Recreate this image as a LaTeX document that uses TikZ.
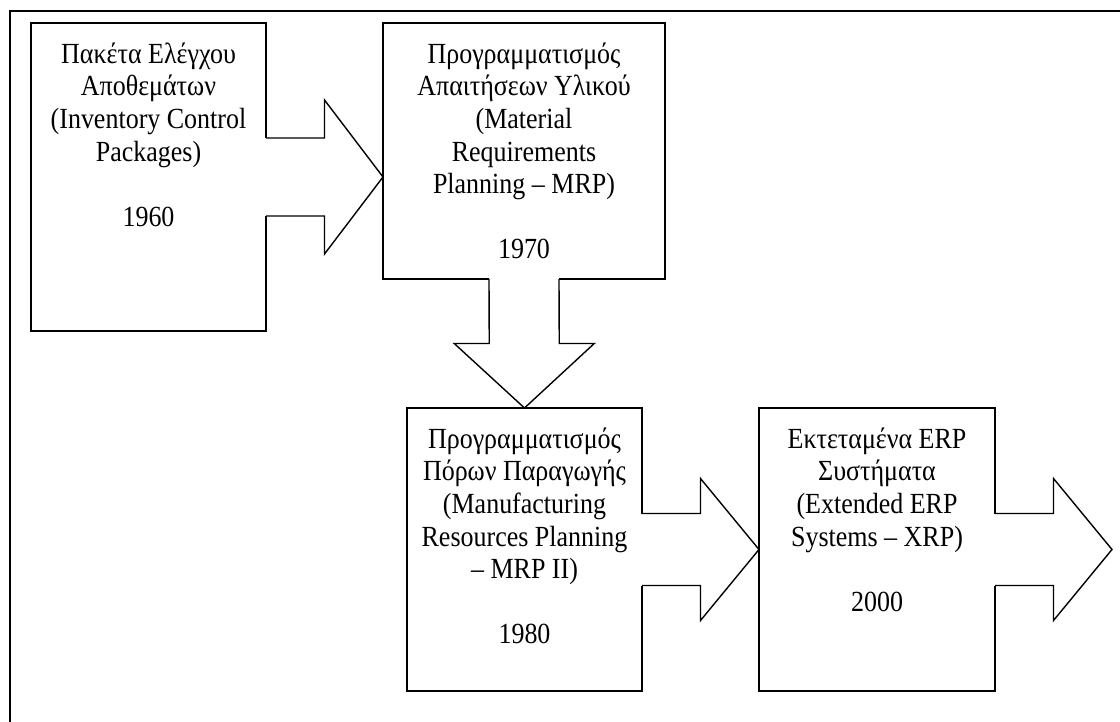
\documentclass[tikz,border=0pt]{standalone}
\usepackage{fontspec}
\setmainfont{Liberation Serif}[FakeStretch=0.89]
\usetikzlibrary{calc}
\begin{document}
\begin{tikzpicture}[x=0.5pt,y=-0.5pt,line width=0.7pt,
    box/.style={draw,outer sep=0pt,inner sep=0pt},
    txt/.style={anchor=north,align=center,inner sep=0pt,font=\fontsize{14.6}{16.3}\selectfont}]
    \useasboundingbox (0,0) rectangle (1120,722);
    % frame
    \draw[line width=1pt] (10,722) -- (10,11) -- (1120,11);
    % boxes
    \node[box,minimum width=117.5pt,minimum height=154pt] (b1) at (148.5,177) {};
    \node[box,minimum width=141pt,minimum height=128pt] (b2) at (524,151) {};
    \node[box,minimum width=117.5pt,minimum height=141.5pt] (b3) at (524.5,549.5) {};
    \node[box,minimum width=118pt,minimum height=141.5pt] (b4) at (877,549.5) {};
    \coordinate (tip) at (1112,549);
    \node[txt] (t1) at ($(b1.north)+(0,19)$) {Πακέτα Ελέγχου\\ Αποθεμάτων\\ (Inventory Control\\ Packages)\\ \mbox{}\\ 1960};
    \node[txt] (t2) at ($(b2.north)+(0,19)$) {Προγραμματισμός\\ Απαιτήσεων Υλικού\\ (Material\\ Requirements\\ Planning – MRP)\\ \mbox{}\\ 1970};
    \node[txt] (t3) at ($(b3.north)+(0,19)$) {Προγραμματισμός\\ Πόρων Παραγωγής\\ (Manufacturing\\ Resources Planning\\ – MRP II)\\ \mbox{}\\ 1980};
    \node[txt] (t4) at ($(b4.north)+(0,19)$) {Εκτεταμένα ERP\\ Συστήματα\\ (Extended ERP\\ Systems – XRP)\\ \mbox{}\\ 2000};
    % block arrows to the right
    \foreach \a/\b/\s/\h in {b1/b2.west/39/77, b3/b4.west/36/71, b4/tip/36/71} {
        \coordinate (t) at (\a.east -| \b);
        \coordinate (m) at ($(\a.east)!0.5!(t)$);
        \fill[white] ($(\a.east)+(-1,-\s)$) rectangle ($(m)+(0,\s)$);
        \draw[fill=white] ($(\a.east)+(0,-\s)$) -- ($(m)+(0,-\s)$) -- ($(m)+(0,-\h)$) -- (t)
            -- ($(m)+(0,\h)$) -- ($(m)+(0,\s)$) -- ($(\a.east)+(0,\s)$);
    }
    % block arrow down
    \coordinate (m) at ($(b2.south)!0.5!(b3.north)$);
    \fill[white] ($(b2.south)+(-35,-1)$) rectangle ($(m)+(35,0)$);
    \draw[fill=white] ($(b2.south)+(-35,0)$) -- ($(m)+(-35,0)$) -- ($(m)+(-70,0)$) -- (b3.north)
        -- ($(m)+(70,0)$) -- ($(m)+(35,0)$) -- ($(b2.south)+(35,0)$);
\end{tikzpicture}
\end{document}
